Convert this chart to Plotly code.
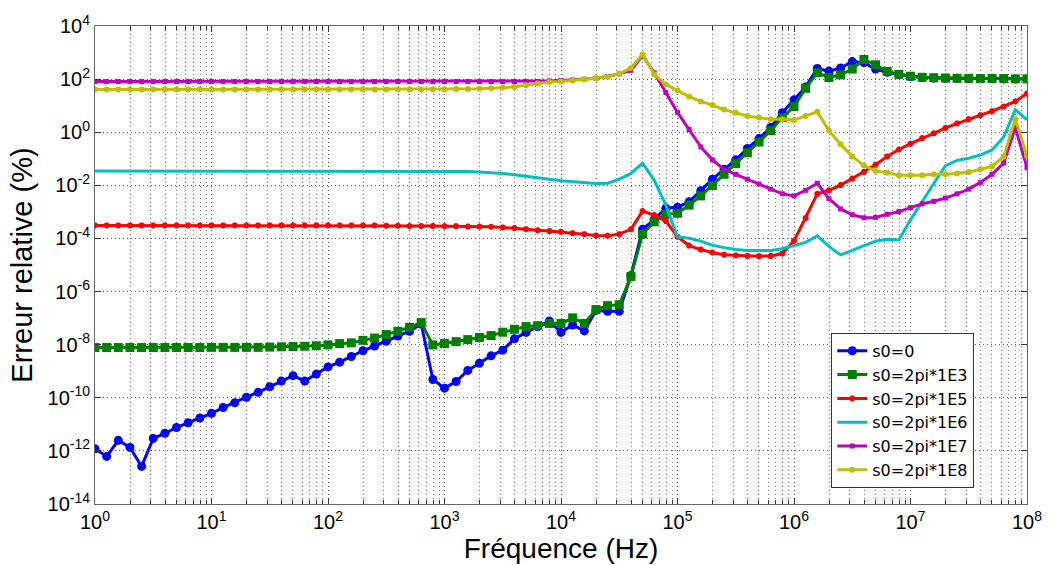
import plotly.graph_objects as go

# Frequency sweep (Hz), 10 points per decade
freq = [
    1.0, 1.259, 1.585, 1.995, 2.512, 3.162, 3.981, 5.012, 6.310, 7.943,
    1.0e1, 1.259e1, 1.585e1, 1.995e1, 2.512e1, 3.162e1, 3.981e1, 5.012e1, 6.310e1, 7.943e1,
    1.0e2, 1.259e2, 1.585e2, 1.995e2, 2.512e2, 3.162e2, 3.981e2, 5.012e2, 6.310e2, 7.943e2,
    1.0e3, 1.259e3, 1.585e3, 1.995e3, 2.512e3, 3.162e3, 3.981e3, 5.012e3, 6.310e3, 7.943e3,
    1.0e4, 1.259e4, 1.585e4, 1.995e4, 2.512e4, 3.162e4, 3.981e4, 5.012e4, 6.310e4, 7.943e4,
    1.0e5, 1.259e5, 1.585e5, 1.995e5, 2.512e5, 3.162e5, 3.981e5, 5.012e5, 6.310e5, 7.943e5,
    1.0e6, 1.259e6, 1.585e6, 1.995e6, 2.512e6, 3.162e6, 3.981e6, 5.012e6, 6.310e6, 7.943e6,
    1.0e7, 1.259e7, 1.585e7, 1.995e7, 2.512e7, 3.162e7, 3.981e7, 5.012e7, 6.310e7, 7.943e7,
    1.0e8,
]

# Relative error (%) for each expansion point s0
err_s0_0 = [
    1.2e-12, 6.2e-13, 2.5e-12, 1.35e-12, 2.6e-13, 2.95e-12, 4.6e-12, 7.6e-12, 1.15e-11, 1.74e-11,
    2.6e-11, 4.3e-11, 6.5e-11, 1.05e-10, 1.6e-10, 2.6e-10, 4.3e-10, 6.8e-10, 4.3e-10, 7.8e-10,
    1.45e-9, 2.2e-9, 3.6e-9, 5.9e-9, 8.9e-9, 1.35e-8, 2.1e-8, 3.2e-8, 6.0e-8, 4.9e-10,
    2.3e-10, 4.1e-10, 1.07e-9, 2.0e-9, 3.8e-9, 6.2e-9, 1.66e-8, 2.9e-8, 4.8e-8, 7.8e-8,
    2.9e-8, 5.5e-8, 3.3e-8, 1.95e-7, 1.8e-7, 1.8e-7, 4.0e-6, 2.2e-4, 5.1e-4, 1.38e-3,
    1.5e-3, 2.4e-3, 6.3e-3, 1.7e-2, 4.0e-2, 9.1e-2, 0.245, 0.575, 1.5, 5.4,
    16.6, 51, 250, 200, 263, 457, 417, 240, 182, 148,
    126, 115, 110, 107, 107, 105, 105, 105, 102, 102,
    102,
]

err_s0_1e3 = [
    7.8e-9, 7.8e-9, 7.8e-9, 7.8e-9, 7.8e-9, 7.8e-9, 7.8e-9, 7.8e-9, 7.8e-9, 7.8e-9,
    7.9e-9, 7.9e-9, 7.9e-9, 7.9e-9, 7.9e-9, 8.1e-9, 8.3e-9, 8.5e-9, 8.7e-9, 9.1e-9,
    9.8e-9, 1.1e-8, 1.17e-8, 1.45e-8, 1.78e-8, 2.4e-8, 3.2e-8, 4.5e-8, 6.8e-8, 9.8e-9,
    1.1e-8, 1.3e-8, 1.55e-8, 1.86e-8, 2.2e-8, 2.95e-8, 3.8e-8, 4.8e-8, 5.2e-8, 6.3e-8,
    6.3e-8, 1.02e-7, 6.3e-8, 2.1e-7, 2.95e-7, 3.2e-7, 3.7e-6, 1.45e-4, 4.2e-4, 8.1e-4,
    8.9e-4, 1.8e-3, 4.0e-3, 9.8e-3, 2.6e-2, 6.6e-2, 0.17, 0.43, 1.15, 3.55,
    9.3, 45, 174, 115, 145, 240, 550, 347, 195, 151,
    129, 117, 112, 110, 107, 107, 105, 105, 105, 102,
    102,
]

err_s0_1e5 = [
    3.1e-4, 3.1e-4, 3.1e-4, 3.1e-4, 3.1e-4, 3.1e-4, 3.1e-4, 3.1e-4, 3.1e-4, 3.1e-4,
    3.1e-4, 3.1e-4, 3.1e-4, 3.1e-4, 3.1e-4, 3.1e-4, 3.1e-4, 3.1e-4, 3.1e-4, 3.1e-4,
    3.1e-4, 3.1e-4, 3.1e-4, 3.1e-4, 3.1e-4, 3.0e-4, 3.0e-4, 2.95e-4, 2.95e-4, 2.95e-4,
    2.9e-4, 2.9e-4, 2.8e-4, 2.8e-4, 2.75e-4, 2.6e-4, 2.45e-4, 2.24e-4, 2.04e-4, 1.9e-4,
    1.78e-4, 1.58e-4, 1.45e-4, 1.29e-4, 1.26e-4, 1.45e-4, 2.2e-4, 1.07e-3, 7.6e-4, 4.5e-4,
    1.17e-4, 5.4e-5, 3.8e-5, 2.95e-5, 2.45e-5, 2.3e-5, 2.2e-5, 2.15e-5, 2.2e-5, 2.7e-5,
    8.1e-5, 5.9e-4, 4.8e-3, 6.5e-3, 1.02e-2, 1.8e-2, 3.2e-2, 6.0e-2, 0.123, 0.224,
    0.37, 0.6, 0.91, 1.45, 2.14, 3.1, 4.4, 6.2, 9.3, 14.5,
    28.8,
]

err_s0_1e6 = [
    3.47e-2, 3.47e-2, 3.47e-2, 3.47e-2, 3.47e-2, 3.47e-2, 3.47e-2, 3.47e-2, 3.47e-2, 3.47e-2,
    3.47e-2, 3.47e-2, 3.47e-2, 3.47e-2, 3.47e-2, 3.47e-2, 3.47e-2, 3.47e-2, 3.47e-2, 3.47e-2,
    3.47e-2, 3.47e-2, 3.47e-2, 3.47e-2, 3.47e-2, 3.47e-2, 3.47e-2, 3.47e-2, 3.47e-2, 3.47e-2,
    3.47e-2, 3.4e-2, 3.3e-2, 3.16e-2, 3.0e-2, 2.8e-2, 2.5e-2, 2.24e-2, 1.95e-2, 1.7e-2,
    1.48e-2, 1.38e-2, 1.29e-2, 1.17e-2, 1.2e-2, 1.7e-2, 2.8e-2, 6.8e-2, 1.58e-2, 1.78e-3,
    1.15e-4, 1.02e-4, 7.9e-5, 5.6e-5, 4.5e-5, 3.8e-5, 3.55e-5, 3.5e-5, 3.55e-5, 4.1e-5,
    5.4e-5, 7.1e-5, 1.26e-4, 5.0e-5, 2.4e-5, 3.55e-5, 5.4e-5, 7.9e-5, 9.3e-5, 8.7e-5,
    5.0e-4, 2.5e-3, 1.17e-2, 5.5e-2, 8.7e-2, 0.105, 0.138, 0.214, 0.66, 7.1,
    2.95,
]

err_s0_1e7 = [
    81, 81, 81, 81, 81, 81, 81, 81, 81, 81,
    81, 81, 81, 81, 81, 81, 81, 81, 81, 81,
    81, 81, 81, 81, 81, 81, 81, 81, 81, 81,
    81, 81, 81, 81, 81, 81, 81, 81, 81, 85,
    89, 93, 98, 107, 126, 158, 214, 776, 174, 31,
    5.6, 1.26, 0.28, 9.1e-2, 4.0e-2, 2.6e-2, 1.7e-2, 1.12e-2, 7.2e-3, 4.8e-3,
    4.0e-3, 6.5e-3, 1.2e-2, 3.16e-3, 1.29e-3, 7.8e-4, 6.0e-4, 6.2e-4, 8.1e-4, 1.02e-3,
    1.45e-3, 2.0e-3, 2.5e-3, 3.3e-3, 4.8e-3, 7.2e-3, 1.29e-2, 2.6e-2, 6.9e-2, 1.5,
    4.6e-2,
]

err_s0_1e8 = [
    41, 41, 41, 41, 41, 41, 41, 41, 41, 41,
    41, 41, 41, 41, 41, 41, 41, 41, 41, 41,
    41, 41, 41, 41, 41, 41, 41, 41, 41, 41,
    41, 42, 42, 43, 45, 48, 51, 59, 68, 78,
    81, 89, 98, 105, 120, 158, 263, 850, 151, 63,
    37, 22, 14.5, 10.5, 7.1, 5.4, 4.1, 3.55, 3.1, 3.1,
    2.9, 4.1, 5.9, 1.15, 0.355, 0.123, 5.6e-2, 3.5e-2, 3.0e-2, 2.4e-2,
    2.4e-2, 2.4e-2, 2.6e-2, 2.6e-2, 2.8e-2, 3.2e-2, 4.0e-2, 5.2e-2, 0.123, 3.1,
    0.129,
]

series_names = ["s0=0", "s0=2pi*1E3", "s0=2pi*1E5", "s0=2pi*1E6", "s0=2pi*1E7", "s0=2pi*1E8"]
series_values = [err_s0_0, err_s0_1e3, err_s0_1e5, err_s0_1e6, err_s0_1e7, err_s0_1e8]

# Axis tick labels
x_tick_exponents = [0, 1, 2, 3, 4, 5, 6, 7, 8]
y_tick_exponents = [4, 2, 0, -2, -4, -6, -8, -10, -12, -14]

styles = [
    dict(color="#0000FF", mode="lines+markers", marker=dict(symbol="circle", size=9)),
    dict(color="#008000", mode="lines+markers", marker=dict(symbol="square", size=9)),
    dict(color="#FF0000", mode="lines+markers", marker=dict(symbol="asterisk", size=5,
                                                            line=dict(width=2, color="#FF0000"))),
    dict(color="#00BFBF", mode="lines", marker=dict()),
    dict(color="#BF00BF", mode="lines+markers", marker=dict(symbol="square", size=5)),
    dict(color="#BFBF00", mode="lines+markers", marker=dict(symbol="circle", size=6)),
]

fig = go.Figure()
for name, vals, st in zip(series_names, series_values, styles):
    mk = dict(st["marker"])
    mk.setdefault("color", st["color"])
    fig.add_trace(go.Scatter(
        x=freq, y=vals, name=name, mode=st["mode"],
        line=dict(color=st["color"], width=3),
        marker=mk,
    ))

minor_x = [m * 10 ** d for d in range(0, 8) for m in range(2, 10)]
font_family = "Liberation Sans, Arial, sans-serif"
grid_dash = "1px,3px"

fig.update_layout(
    width=1054, height=565,
    margin=dict(l=95, r=20, t=19, b=54),
    paper_bgcolor="white", plot_bgcolor="white",
    font=dict(family=font_family, color="black"),
    showlegend=True,
    legend=dict(
        x=0.790, y=0.358, xanchor="left", yanchor="top",
        bgcolor="white", bordercolor="#333333", borderwidth=1,
        font=dict(size=16, family="DejaVu Sans, sans-serif", color="black"),
        tracegroupgap=0,
    ),
)

fig.update_xaxes(
    type="log", range=[0, 8],
    tickvals=[10 ** e for e in x_tick_exponents],
    ticktext=[f"10<sup>{e}</sup>" for e in x_tick_exponents],
    tickfont=dict(size=20, family=font_family),
    ticks="inside", ticklen=6, tickcolor="#333333",
    showline=True, linecolor="#666666", linewidth=1, mirror="ticks",
    showgrid=True, gridcolor="#555555", griddash=grid_dash, gridwidth=1,
    minor=dict(tickvals=minor_x, ticks="inside", ticklen=4, tickcolor="#333333",
               showgrid=True, gridcolor="#777777", griddash=grid_dash, gridwidth=1),
    zeroline=False,
    title=dict(text="Fréquence (Hz)", font=dict(size=28, family=font_family), standoff=0),
)

fig.update_yaxes(
    type="log", range=[-14, 4],
    tickvals=[10.0 ** e for e in y_tick_exponents],
    ticktext=[f"10<sup>{e}</sup>" for e in y_tick_exponents],
    tickfont=dict(size=20, family=font_family),
    ticks="inside", ticklen=6, tickcolor="#333333",
    showline=True, linecolor="#666666", linewidth=1, mirror="ticks",
    showgrid=True, gridcolor="#555555", griddash=grid_dash, gridwidth=1,
    zeroline=False,
    title=dict(text="Erreur relative (%)", font=dict(size=29, family=font_family), standoff=6),
)

fig.write_html("out.html")
